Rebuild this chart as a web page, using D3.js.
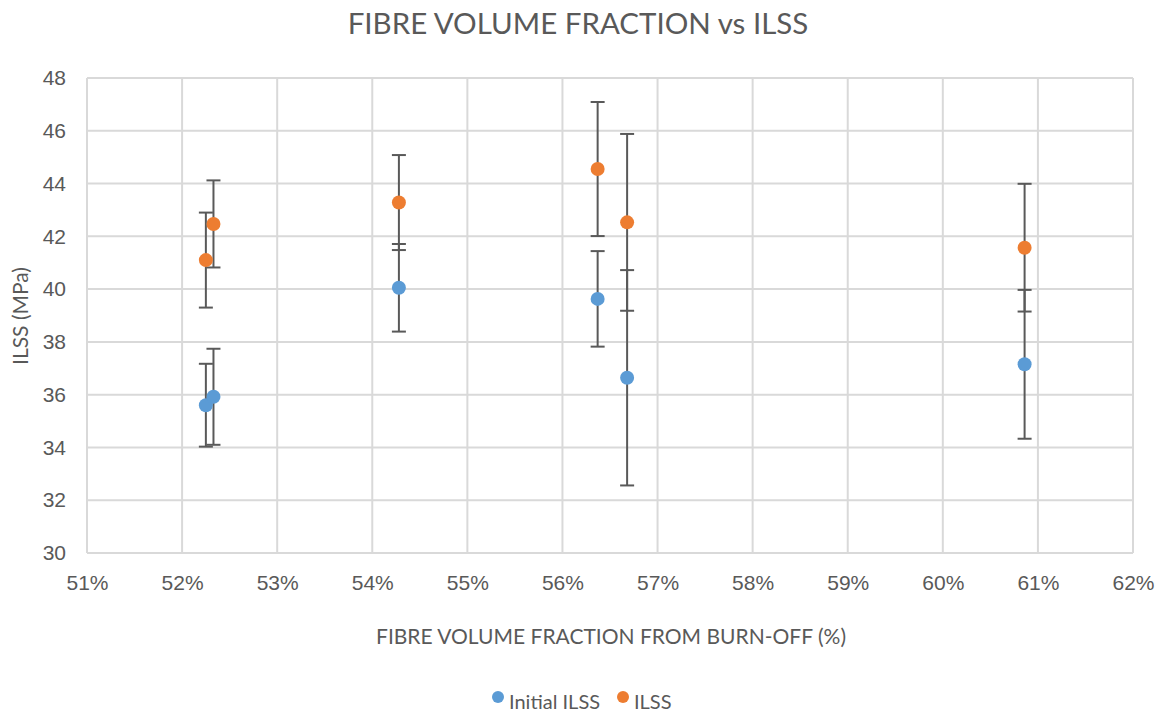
<!DOCTYPE html>
<html>
<head>
<meta charset="utf-8">
<script src="https://cdn.jsdelivr.net/npm/d3@7"></script>
<style>
  body { margin: 0; background: #fff; }
  text { fill: #595959; }
</style>
</head>
<body>
<script>
// fibre volume fraction (%) for each specimen, shared by both series
var fibreFraction = [52.25, 52.33, 54.28, 56.37, 56.68, 60.86];

// initial ILSS (MPa) and its error bar half-width
var initialIlss = [35.6, 35.92, 40.05, 39.63, 36.64, 37.15];
var initialErr  = [1.57, 1.82, 1.66, 1.81, 4.08, 2.82];

// ILSS (MPa) and its error bar half-width
var ilss    = [41.1, 42.47, 43.28, 44.55, 42.53, 41.57];
var ilssErr = [1.8, 1.65, 1.8, 2.54, 3.35, 2.42];

var xTicks = [51, 52, 53, 54, 55, 56, 57, 58, 59, 60, 61, 62];
var yTicks = [30, 32, 34, 36, 38, 40, 42, 44, 46, 48];

var seriesNames = ["Initial ILSS", "ILSS"];
var colors = ["#5b9bd5", "#ed7d31"];

var W = 1164, H = 714;
var margin = {top: 78, right: 31, bottom: 161, left: 87};
var width = W - margin.left - margin.right;
var height = H - margin.top - margin.bottom;

var svg = d3.select("body").append("svg")
    .attr("width", W)
    .attr("height", H);

var g = svg.append("g")
    .attr("transform", "translate(" + margin.left + "," + margin.top + ")");

var xScale = d3.scaleLinear().domain([51, 62]).range([0, width]);
var yScale = d3.scaleLinear().domain([30, 48]).range([height, 0]);

// gridlines
g.append("g")
    .selectAll("line")
    .data(yTicks)
    .join("line")
    .attr("x1", 0).attr("x2", width)
    .attr("y1", d => yScale(d)).attr("y2", d => yScale(d))
    .attr("stroke", "#d9d9d9").attr("stroke-width", 2);

g.append("g")
    .selectAll("line")
    .data(xTicks)
    .join("line")
    .attr("y1", 0).attr("y2", height)
    .attr("x1", d => xScale(d)).attr("x2", d => xScale(d))
    .attr("stroke", "#d9d9d9").attr("stroke-width", 2);

// axes (labels only, lines come from the grid)
var xAxis = g.append("g")
    .attr("transform", "translate(0," + height + ")")
    .call(d3.axisBottom(xScale).tickValues(xTicks).tickSize(0).tickPadding(22)
        .tickFormat(d => d + "%"));
var yAxis = g.append("g")
    .call(d3.axisLeft(yScale).tickValues(yTicks).tickSize(0).tickPadding(21));

[xAxis, yAxis].forEach(function(a) {
  a.select(".domain").remove();
  a.selectAll("text")
    .style("font-family", "'Liberation Sans', Arial, sans-serif")
    .style("font-size", "21px")
    .attr("fill", "#595959");
});

// assemble the point data per series
var series = [
  {name: seriesNames[0], color: colors[0], values: initialIlss, errs: initialErr},
  {name: seriesNames[1], color: colors[1], values: ilss, errs: ilssErr}
];
var pts = [];
series.forEach(function(s, si) {
  for (var i = 0; i < fibreFraction.length; i++) {
    pts.push({s: si, x: fibreFraction[i], y: s.values[i], e: s.errs[i], color: s.color});
  }
});

// error bars
var cap = 7;
var eb = g.append("g").selectAll("g").data(pts).join("g")
    .attr("stroke", "#595959").attr("stroke-width", 2);
eb.append("line")
    .attr("x1", d => xScale(d.x)).attr("x2", d => xScale(d.x))
    .attr("y1", d => yScale(d.y - d.e)).attr("y2", d => yScale(d.y + d.e));
eb.append("line")
    .attr("x1", d => xScale(d.x) - cap).attr("x2", d => xScale(d.x) + cap)
    .attr("y1", d => yScale(d.y + d.e)).attr("y2", d => yScale(d.y + d.e));
eb.append("line")
    .attr("x1", d => xScale(d.x) - cap).attr("x2", d => xScale(d.x) + cap)
    .attr("y1", d => yScale(d.y - d.e)).attr("y2", d => yScale(d.y - d.e));

// markers
g.append("g").selectAll("circle").data(pts).join("circle")
    .attr("cx", d => xScale(d.x))
    .attr("cy", d => yScale(d.y))
    .attr("r", 7)
    .attr("fill", d => d.color);

// titles
var titleFont = "Lato, 'Open Sans', sans-serif";
svg.append("text")
    .attr("x", 578).attr("y", 34)
    .attr("text-anchor", "middle")
    .style("font-family", titleFont)
    .style("font-size", "29.5px")
    .text("FIBRE VOLUME FRACTION vs ILSS");

svg.append("text")
    .attr("x", 611).attr("y", 644)
    .attr("text-anchor", "middle")
    .style("font-family", titleFont)
    .style("font-size", "21px")
    .text("FIBRE VOLUME FRACTION FROM BURN-OFF (%)");

svg.append("text")
    .attr("transform", "translate(28,316) rotate(-90)")
    .attr("text-anchor", "middle")
    .style("font-family", titleFont)
    .style("font-size", "21px")
    .text("ILSS (MPa)");

// legend
var legend = svg.append("g").attr("transform", "translate(498,702)");
var item = legend.selectAll("g").data(series).join("g")
    .attr("transform", (d, i) => "translate(" + (i * 125) + ",0)");
item.append("circle").attr("cx", 0).attr("cy", -5).attr("r", 6).attr("fill", d => d.color);
item.append("text")
    .attr("x", 11).attr("y", 7)
    .style("font-family", titleFont)
    .style("font-size", "20px")
    .text(d => d.name);
</script>
</body>
</html>
